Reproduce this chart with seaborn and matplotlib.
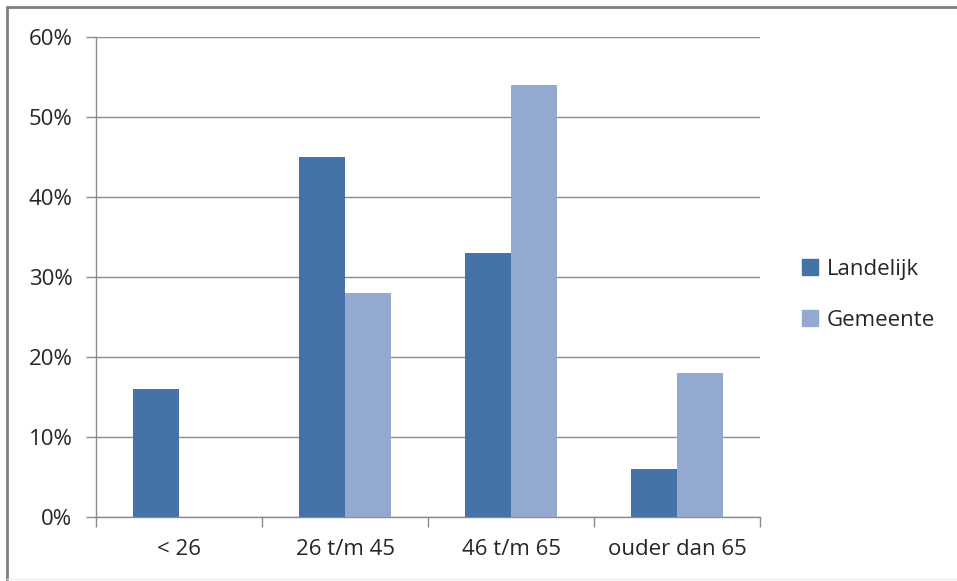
import matplotlib
matplotlib.use("Agg")
import matplotlib.pyplot as plt
from matplotlib.lines import Line2D
from matplotlib.ticker import FuncFormatter, MultipleLocator
import pandas as pd
import seaborn as sns

categories = ["< 26", "26 t/m 45", "46 t/m 65", "ouder dan 65"]
landelijk = [16, 45, 33, 6]
gemeente = [0, 28, 54, 18]
series_names = ["Landelijk", "Gemeente"]
colors = ["#4572A7", "#93A9CF"]

df = pd.DataFrame({
    "categorie": categories * 2,
    "reeks": [series_names[0]] * len(categories) + [series_names[1]] * len(categories),
    "waarde": landelijk + gemeente,
})

sns.set_theme(style="white")
plt.rcParams["font.family"] = ["Open Sans", "DejaVu Sans"]

fig = plt.figure(figsize=(9.57, 5.81), dpi=100)
ax = fig.add_axes([96 / 957, 1 - 517 / 581, (760 - 96) / 957, (517 - 37) / 581])

sns.barplot(data=df, x="categorie", y="waarde", hue="reeks", palette=colors,
            width=0.554, gap=0, saturation=1, linewidth=0, ax=ax, legend=False, zorder=3)

ax.set_xlim(-0.5, 3.5)
ax.set_ylim(0, 60)
ax.yaxis.set_major_locator(MultipleLocator(10))
ax.yaxis.set_major_formatter(FuncFormatter(lambda v, p: f"{int(v)}%"))
ax.set_xlabel("")
ax.set_ylabel("")

grid_c = "#8c8c8c"
ax.grid(axis="y", color=grid_c, linewidth=1.0, zorder=0)
for s in ["top", "right"]:
    ax.spines[s].set_visible(False)
for s in ["left", "bottom"]:
    ax.spines[s].set_color(grid_c)
    ax.spines[s].set_linewidth(1.0)

# category boundary ticks on the x axis
ax.set_xticks([-0.5, 0.5, 1.5, 2.5, 3.5], minor=True)
ax.set_xticks(range(len(categories)))
ax.set_xticklabels(categories)
ax.tick_params(axis="x", which="major", length=0, pad=16, labelsize=16, labelcolor="#262626")
ax.tick_params(axis="x", which="minor", length=7, width=1, color=grid_c, direction="out", bottom=True)
ax.tick_params(axis="y", length=7, width=1, color=grid_c, direction="out", left=True,
               pad=10, labelsize=16, labelcolor="#262626")

handles = [Line2D([0], [0], marker="s", linestyle="", markersize=11,
                  markerfacecolor=c, markeredgecolor=c) for c in colors]
fig.legend(handles, series_names, loc="center left", bbox_to_anchor=(788 / 957, 1 - 295 / 581),
           frameon=False, fontsize=16, handlelength=1.0, handletextpad=0.25,
           labelspacing=1.35, borderpad=0, labelcolor="#262626")

# outer chart frame
fig.add_artist(Line2D([7.5 / 957, 7.5 / 957], [0, 1 - 6.5 / 581], transform=fig.transFigure,
                      color="#7f7f7f", linewidth=2))
fig.add_artist(Line2D([7.5 / 957, 1], [1 - 6.5 / 581, 1 - 6.5 / 581], transform=fig.transFigure,
                      color="#7f7f7f", linewidth=2))
fig.add_artist(Line2D([7.5 / 957, 1], [2.5 / 581, 2.5 / 581], transform=fig.transFigure,
                      color="#ececec", linewidth=1))

fig.savefig("out.png", dpi=100)
